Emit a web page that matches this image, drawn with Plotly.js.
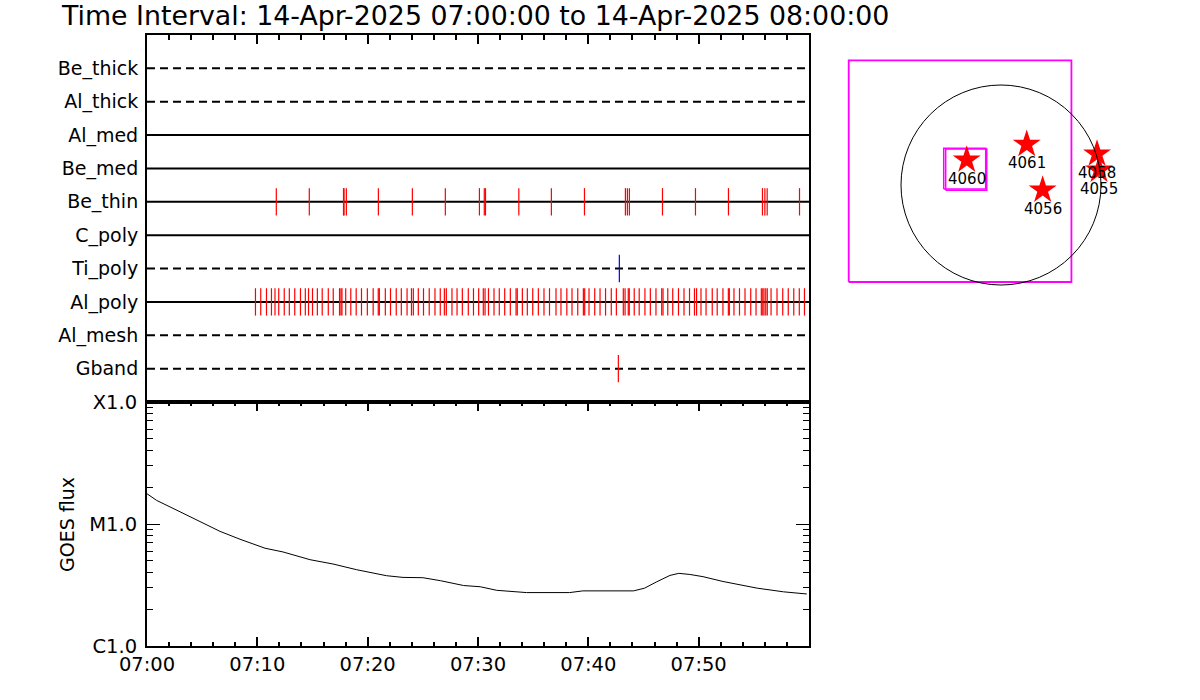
<!DOCTYPE html>
<html>
<head>
<meta charset="utf-8">
<script src="https://cdn.plot.ly/plotly-3.0.1.min.js"></script>
<style>html,body{margin:0;padding:0;background:#fff;}#chart{width:1200px;height:700px;}</style>
</head>
<body>
<div id="chart"></div>
<script>
// ---------------- DATA ----------------
const titleText = 'Time Interval: 14-Apr-2025 07:00:00 to 14-Apr-2025 08:00:00';
const dayStart = '2025-04-14 07:00:00';
const dayEnd = '2025-04-14 08:00:00';

// categories from bottom (1) to top (10)
const categories = ['Gband','Al_mesh','Al_poly','Ti_poly','C_poly','Be_thin','Be_med','Al_med','Al_thick','Be_thick'];
const categoryDash = ['dash','dash','solid','dash','solid','solid','solid','solid','dash','dash'];

// event times in minutes after 07:00
const beThinEvents = [11.72,14.71,17.81,17.86,18.07,20.97,24.05,27.04,30.13,30.57,30.68,33.70,36.65,39.65,
  43.36,43.54,43.72,46.72,49.71,52.70,55.78,56.00,56.21,59.14];
const alPolyEvents = [9.83,10.31,10.83,11.28,11.60,11.94,12.44,12.90,13.39,13.91,14.35,14.64,15.00,15.44,15.88,
  16.43,16.88,17.45,17.58,17.67,18.01,18.47,18.96,19.44,19.97,20.50,20.96,21.06,21.60,22.07,22.59,23.05,23.57,
  23.97,24.14,24.59,25.06,25.58,26.10,26.58,26.95,27.13,27.64,28.10,28.58,29.12,29.59,30.06,30.48,30.64,30.95,
  31.45,31.93,32.42,32.93,33.45,33.56,34.02,34.47,34.96,35.47,35.98,36.48,37.07,37.52,38.05,38.52,39.04,39.55,
  39.67,40.06,40.58,41.06,41.56,42.08,42.54,43.17,43.33,43.62,43.71,44.16,44.61,45.13,45.62,46.13,46.65,46.77,
  47.20,47.65,48.17,48.67,49.17,49.62,49.81,50.21,50.67,51.23,51.68,52.20,52.69,52.78,53.20,53.70,54.20,54.72,
  55.20,55.68,55.81,55.92,56.08,56.22,56.56,57.10,57.62,58.12,58.62,59.12,59.59];
const tiPolyEvents = [42.81];
const gbandEvents = [42.72];

// GOES flux (W/m^2) vs minutes after 07:00
const goesMinutes = [0,0.88,2.99,4.80,6.62,8.43,10.70,12.33,14.77,16.86,19.0,21.7,23.2,25.0,26.6,28.7,30.2,31.7,
  34.4,38.3,39.5,44.1,45.1,46.2,47.4,48.2,49.2,50.4,52.2,55.3,57.7,59.8];
const goesFlux = [1.77e-5,1.56e-5,1.26e-5,1.045e-5,8.7e-6,7.5e-6,6.33e-6,5.9e-6,5.1e-6,4.7e-6,4.22e-6,3.77e-6,
  3.65e-6,3.63e-6,3.43e-6,3.13e-6,3.06e-6,2.86e-6,2.74e-6,2.74e-6,2.83e-6,2.83e-6,2.98e-6,3.36e-6,3.79e-6,
  3.94e-6,3.86e-6,3.70e-6,3.38e-6,2.98e-6,2.78e-6,2.67e-6];
const goesTickVals = [1e-6,1e-5,1e-4];
const goesTickText = ['C1.0','M1.0','X1.0'];
const timeTickLabels = ['07:00','07:10','07:20','07:30','07:40','07:50'];

// solar map (arcsec)
const sunRadius = 960;
const arNumbers = ['4060','4061','4056','4058','4055'];
const arX = [-329,247,400,922,941];
const arY = [240,391,-48,298,144];
const fovBoxX = [-1462,676];
const fovBoxY = [-931,1197];
const subBox1X = [-550,-147];
const subBox1Y = [-38,352];
const subBox2X = [-531,-137];
const subBox2Y = [-50,346];

// ---------------- BUILD ----------------
const FONT = 'DejaVu Sans';
function toTime(m){
  const d = new Date(Date.UTC(2025,3,14,7,0,0) + Math.round(m*60000));
  return d.toISOString().replace('T',' ').replace('Z','');
}
const traces = [];

// category base lines
categories.forEach((c,i)=>{
  traces.push({x:[dayStart,dayEnd], y:[i+1,i+1], xaxis:'x2', yaxis:'y2', mode:'lines',
    line:{color:'#000', width:2, dash: categoryDash[i]==='dash' ? '8px,5px' : 'solid'}, hoverinfo:'skip'});
});
function eventTrace(events, cat, color){
  const k = categories.indexOf(cat)+1;
  const xs=[], ys=[];
  events.forEach(m=>{ const t=toTime(m); xs.push(t,t,null); ys.push(k-0.41,k+0.41,null); });
  return {x:xs, y:ys, xaxis:'x2', yaxis:'y2', mode:'lines', line:{color:color, width:1.2}, hoverinfo:'skip'};
}
traces.push(eventTrace(beThinEvents,'Be_thin','#ff0000'));
traces.push(eventTrace(alPolyEvents,'Al_poly','#ff0000'));
traces.push(eventTrace(tiPolyEvents,'Ti_poly','#0000ff'));
traces.push(eventTrace(gbandEvents,'Gband','#ff0000'));

// GOES
traces.push({x: goesMinutes.map(toTime), y: goesFlux, xaxis:'x', yaxis:'y', mode:'lines',
  line:{color:'#000', width:1}, hoverinfo:'skip'});

// map
function boxTrace(bx,by,w){
  return {x:[bx[0],bx[1],bx[1],bx[0],bx[0]], y:[by[0],by[0],by[1],by[1],by[0]], xaxis:'x3', yaxis:'y3',
    mode:'lines', line:{color:'#ff00ff', width:w}, hoverinfo:'skip'};
}
traces.push(boxTrace(fovBoxX,fovBoxY,1.8));
traces.push(boxTrace(subBox1X,subBox1Y,1.5));
traces.push(boxTrace(subBox2X,subBox2Y,1.5));
traces.push({x:arX, y:arY, xaxis:'x3', yaxis:'y3', mode:'markers',
  marker:{symbol:'star', size:21, color:'#ff0000', line:{width:0}}, hoverinfo:'skip'});

// minor ticks
const minor2min = [];
for(let m=2;m<60;m+=2){ if(m%10!==0) minor2min.push(toTime(m)); }
const major10 = [0,10,20,30,40,50].map(toTime);
const logMinor = [];
[1e-6,1e-5].forEach(d=>{ for(let k=2;k<=9;k++) logMinor.push(k*d); });

const xDom = [147/1200, 809/1200];
const annotations = arNumbers.map((n,i)=>({x:arX[i], y:arY[i], xref:'x3', yref:'y3', text:n, showarrow:false,
  yshift:-19, font:{family:FONT, size:15, color:'#000'}}));
annotations.push({x:67/1200, y:(700-525)/700, xref:'paper', yref:'paper', text:'GOES flux', textangle:-90,
  showarrow:false, font:{family:FONT, size:19, color:'#000'}, xanchor:'center', yanchor:'middle'});

const layout = {
  width:1200, height:700, margin:{l:0,r:0,t:0,b:0}, paper_bgcolor:'#fff', plot_bgcolor:'rgba(0,0,0,0)',
  showlegend:false,
  title:{text:titleText, x:62/1200, xanchor:'left', y:1-16/700, yanchor:'middle', xref:'paper', yref:'paper',
    font:{family:FONT, size:26.8, color:'#000'}},
  font:{family:FONT, color:'#000'},
  xaxis:{domain:xDom, anchor:'y', type:'date', range:[dayStart,dayEnd], tickmode:'array', tickvals:major10,
    ticktext:timeTickLabels, ticks:'inside', ticklen:9, tickwidth:2, tickcolor:'#000', mirror:'allticks',
    showline:true, linewidth:2, linecolor:'#000', showgrid:false, zeroline:false,
    tickfont:{family:FONT, size:19.5, color:'#000'},
    minor:{tickmode:'array', tickvals:minor2min, ticks:'inside', ticklen:4, tickwidth:2, tickcolor:'#000', showgrid:false}},
  yaxis:{domain:[54/700, 298/700], anchor:'x', type:'log', range:[-6,-4], tickmode:'array', tickvals:goesTickVals,
    ticktext:goesTickText, ticks:'inside', ticklen:13, tickwidth:1, tickcolor:'#000', mirror:'allticks',
    showline:true, linewidth:2, linecolor:'#000', showgrid:false, zeroline:false, ticklabelstandoff:4,
    tickfont:{family:FONT, size:19.5, color:'#000'},
    minor:{tickmode:'array', tickvals:logMinor, ticks:'inside', ticklen:6, tickwidth:1, tickcolor:'#000', showgrid:false}},
  xaxis2:{domain:xDom, anchor:'y2', side:'top', type:'date', range:[dayStart,dayEnd], tickmode:'array',
    tickvals:major10, ticks:'inside', ticklen:9, tickwidth:2, tickcolor:'#000', showticklabels:false,
    showline:true, mirror:true, linewidth:2, linecolor:'#000', showgrid:false, zeroline:false,
    minor:{tickmode:'array', tickvals:minor2min, ticks:'inside', ticklen:5, tickwidth:2, tickcolor:'#000', showgrid:false}},
  yaxis2:{domain:[298/700, 665/700], anchor:'x2', range:[0,11], tickmode:'array',
    tickvals:categories.map((c,i)=>i+1), ticktext:categories, ticks:'', showline:true, mirror:true, linewidth:2,
    linecolor:'#000', showgrid:false, zeroline:false, ticklabelstandoff:3,
    tickfont:{family:FONT, size:19, color:'#000'}},
  xaxis3:{domain:[840/1200, 1120/1200], anchor:'y3', range:[-1545.6, 1142.4], visible:false},
  yaxis3:{domain:[400/700, 660/700], anchor:'x3', range:[-1104, 1392], visible:false},
  shapes:[{type:'circle', xref:'x3', yref:'y3', x0:-sunRadius, x1:sunRadius, y0:-sunRadius, y1:sunRadius,
    line:{color:'#000', width:1}}],
  annotations: annotations
};
Plotly.newPlot('chart', traces, layout, {staticPlot:true, displayModeBar:false});
</script>
</body>
</html>
